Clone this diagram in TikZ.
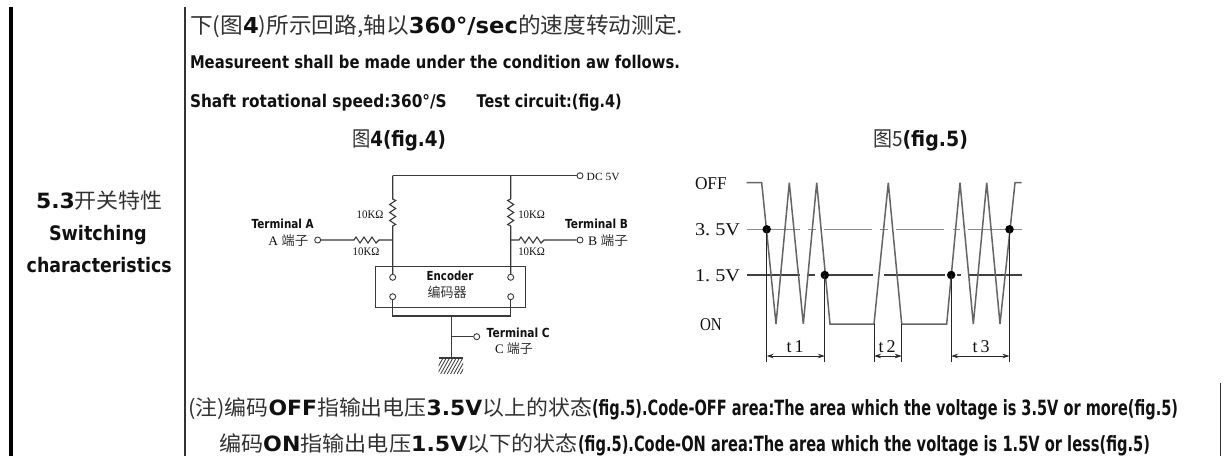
\documentclass[tikz,border=0pt]{standalone}
\usepackage{fontspec}
\setmainfont{DejaVu Sans}
\newfontfamily\cjk{Noto Sans CJK SC}
\newfontfamily\lserif{Liberation Serif}
\usetikzlibrary{arrows.meta}
\definecolor{txt}{HTML}{111111}
\definecolor{zhc}{HTML}{333333}
\definecolor{wire}{HTML}{3A3A3A}
\definecolor{wave}{HTML}{656565}
\definecolor{refl}{HTML}{8C8C8C}
\newcommand\fitw[2]{\resizebox{#1}{\height}{#2}}
\newcommand\zh[1]{{\cjk\mdseries\color{zhc}#1}}
\newcommand\fs[1]{\fontsize{#1}{#1}\selectfont}
\begin{document}
\begin{tikzpicture}[x=1pt,y=-1pt,
  txtnode/.style={anchor=base west,inner sep=0pt,outer sep=0pt,text=txt},
  wirel/.style={draw=wire,line width=1.1pt},
  term/.style={circle,draw=wire,line width=0.9pt,fill=white,inner sep=0pt,minimum size=6pt},
  wavel/.style={draw=wave,line width=1.5pt,line join=miter},
  lvl35/.style={draw=refl,line width=1.6pt},
  lvl15/.style={draw=black!75,line width=1.1pt},
  meas/.style={draw=black!85,line width=0.9pt},
  dotn/.style={circle,fill=black,inner sep=0pt,minimum size=8.5pt},
  dimarrow/.style={meas,{Stealth[length=7pt,width=4.5pt]}-{Stealth[length=7pt,width=4.5pt]}}
]
\useasboundingbox (0,0) rectangle (1226,456);
\fill[white] (0,0) rectangle (1226,456);

% table borders
\fill[black] (8.5,6.7) rectangle (13.3,456);
\draw[black!80,line width=1.2pt] (185,6.7) -- (185,456);
\draw[black!80,line width=1pt] (1220,383) -- (1220,456);

% header text
\node[txtnode] (h1) at (190,33) {\fitw{493pt}{\fs{22}\zh{下(图}\textbf{4}\zh{)所示回路,轴以}\textbf{360°/sec}\zh{的速度转动测定.}}};
\node[txtnode] (h2) at (190,68.5) {\fitw{490pt}{\fs{17.5}\bfseries Measureent shall be made under the condition aw follows.}};
\node[txtnode] (h3) at (190,107.5) {\fitw{256.7pt}{\fs{17.5}\bfseries Shaft rotational speed:360°/S}};
\node[txtnode] (h4) at (476.7,107.5) {\fitw{145pt}{\fs{17.5}\bfseries Test circuit:(fig.4)}};

% left column
\node[txtnode] (c1) at (36,208) {\fitw{126.7pt}{\fs{21}\textbf{5.3}\zh{开关特性}}};
\node[txtnode] (c2) at (49,240.5) {\fitw{97.7pt}{\fs{20}\bfseries Switching}};
\node[txtnode] (c3) at (26.7,272.5) {\fitw{145pt}{\fs{20}\bfseries characteristics}};

% captions
\node[txtnode] (f4) at (352,146) {\fitw{94pt}{\fs{21}\zh{图}\textbf{4(fig.4)}}};
\node[txtnode] (f5) at (873,146) {\fitw{95pt}{\fs{21}\zh{图}{\zh{5}}\textbf{(fig.5)}}};

% ---------------- circuit ----------------
\coordinate (topL) at (392.7,175.7);
\coordinate (topR) at (510.7,175.7);
\node[term] (dc) at (580,175.7) {};
\node[txtnode] (dct) at (586.7,180) {\fitw{33pt}{\fs{11}\lserif DC\ 5V}};
\draw[wirel] (topL) -- (topR) -- (dc);

% vertical resistors
\coordinate (rvL1) at (392.7,199);
\coordinate (rvL2) at (392.7,226);
\coordinate (rvR1) at (510.7,199);
\coordinate (rvR2) at (510.7,226);
\coordinate (jL) at (392.7,240);
\coordinate (jR) at (510.7,240);
\node[draw=wire,line width=1.1pt,minimum width=150pt,minimum height=40.7pt,inner sep=0pt,anchor=north west] (enc) at (375,266) {};
\node[term] (e1) at (392.7,277.3) {};
\node[term] (e2) at (510.7,277.3) {};
\node[term] (e3) at (392.7,296.7) {};
\node[term] (e4) at (510.7,296.7) {};

\draw[wirel] (topL) -- (rvL1) -- ++(3,1.5) -- ++(-6,4) -- ++(6,4) -- ++(-6,4) -- ++(6,4) -- ++(-6,4) -- ++(6,4) -- (rvL2) -- (jL) -- (e1);
\draw[wirel] (topR) -- (rvR1) -- ++(-3,1.5) -- ++(6,4) -- ++(-6,4) -- ++(6,4) -- ++(-6,4) -- ++(6,4) -- ++(-6,4) -- (rvR2) -- (jR) -- (e2);

% horizontal resistors
\node[term] (tA) at (317.7,240) {};
\node[term] (tB) at (580,240) {};
\coordinate (rhL1) at (354,240);
\coordinate (rhL2) at (379,240);
\coordinate (rhR1) at (519,240);
\coordinate (rhR2) at (544,240);
\draw[wirel] (tA) -- (rhL1) -- ++(2,-3) -- ++(4,6) -- ++(4,-6) -- ++(4,6) -- ++(4,-6) -- ++(4,6) -- (rhL2) -- (jL);
\draw[wirel] (jR) -- (rhR1) -- ++(2,-3) -- ++(4,6) -- ++(4,-6) -- ++(4,6) -- ++(4,-6) -- ++(4,6) -- (rhR2) -- (tB);

% bottom / ground
\coordinate (gJ) at (451.7,316);
\coordinate (cJ) at (451.7,336.7);
\coordinate (gnd) at (451.7,358);
\node[term] (tC) at (476.7,336.7) {};
\draw[wirel] (e3) |- (gJ) -| (e4);
\draw[wirel] (gJ) -- (cJ) -- (gnd);
\draw[wirel] (cJ) -- (tC);
\draw[wirel] (438.5,358) -- (463,358);
\begin{scope}
\clip (438.5,358.5) rectangle (463,373);
\foreach \i in {0,...,9} {
  \draw[draw=wire,line width=0.8pt] (434+\i*3.3,374) -- (443+\i*3.3,358);
}
\end{scope}

% circuit labels
\node[txtnode] (lta) at (251.7,228.5) {\fitw{62pt}{\fs{12.5}\bfseries Terminal A}};
\node[txtnode] (lta2) at (268.3,245.5) {\fitw{40pt}{\fs{13}\lserif\color{txt}A\ \zh{端子}}};
\node[txtnode] (ltb) at (565,228.5) {\fitw{63pt}{\fs{12.5}\bfseries Terminal B}};
\node[txtnode] (ltb2) at (588,245.5) {\fitw{40pt}{\fs{13}\lserif\color{txt}B\ \zh{端子}}};
\node[txtnode] (ltc) at (486.7,337) {\fitw{63pt}{\fs{12.5}\bfseries Terminal C}};
\node[txtnode] (ltc2) at (495,353.5) {\fitw{38pt}{\fs{13}\lserif\color{txt}C\ \zh{端子}}};
\node[txtnode] (enct) at (426.7,280.5) {\fitw{46.6pt}{\fs{12.5}\bfseries Encoder}};
\node[txtnode] (enct2) at (427.7,297.5) {\fitw{39pt}{\fs{13.5}\zh{编码器}}};
\node[txtnode] (r1) at (356.7,218.3) {\fitw{26.7pt}{\fs{11.5}\lserif 10KΩ}};
\node[txtnode] (r2) at (518.3,218.3) {\fitw{26.7pt}{\fs{11.5}\lserif 10KΩ}};
\node[txtnode] (r3) at (352.7,255.7) {\fitw{26.7pt}{\fs{11.5}\lserif 10KΩ}};
\node[txtnode] (r4) at (518.3,255.7) {\fitw{26.7pt}{\fs{11.5}\lserif 10KΩ}};

% ---------------- waveform ----------------
\node[txtnode] (woff) at (695,189.5) {\fitw{31.7pt}{\fs{18}\lserif OFF}};
\node[txtnode] (w35) at (695,235.8) {\fitw{45pt}{\fs{18}\lserif 3.\ 5V}};
\node[txtnode] (w15) at (695,281.5) {\fitw{45pt}{\fs{18}\lserif 1.\ 5V}};
\node[txtnode] (won) at (700,330.5) {\fitw{21.7pt}{\fs{18}\lserif ON}};

\foreach \a/\b in {746.7/800,808/816,824/871.7,880/888,896/944.3,952.7/960,968.3/1021.7}
  \draw[lvl35] (\a,229.3) -- (\b,229.3);
\foreach \a/\b in {746.7/800,806.7/815,828/873,884/945,957/961,968.3/1021.7}
  \draw[lvl15] (\a,275) -- (\b,275);

\draw[wavel] (746.7,182.7) -- (761.7,182.7) -- (776,324) -- (789.3,182.7) -- (803.3,324) -- (816.7,182.7) -- (830,324) -- (874,324) -- (888.3,182.7) -- (901.7,324) -- (946.7,324) -- (960,182.7) -- (973.3,324) -- (986.7,182.7) -- (1000,324) -- (1015,182.7) -- (1021.7,182.7);

\node[dotn] (d1) at (766.7,229.3) {};
\node[dotn] (d2) at (824.8,275) {};
\node[dotn] (d3) at (951.2,275) {};
\node[dotn] (d4) at (1009.5,229.3) {};
\coordinate (t2a) at (874,324);
\coordinate (t2b) at (901.7,324);
\coordinate (b1) at (766.7,362);
\coordinate (b2) at (824.8,362);
\coordinate (b3) at (874,362);
\coordinate (b4) at (901.7,362);
\coordinate (b5) at (951.2,362);
\coordinate (b6) at (1009.5,362);
\draw[meas] (d1.center) -- (b1);
\draw[meas] (d2.center) -- (b2);
\draw[meas] (t2a) -- (b3);
\draw[meas] (t2b) -- (b4);
\draw[meas] (d3.center) -- (b5);
\draw[meas] (d4.center) -- (b6);
\coordinate (a1) at (766.7,356);
\coordinate (a2) at (824.8,356);
\coordinate (a3) at (874,356);
\coordinate (a4) at (901.7,356);
\coordinate (a5) at (951.2,356);
\coordinate (a6) at (1009.5,356);
\draw[dimarrow] (a1) -- (a2);
\draw[dimarrow] (a3) -- (a4);
\draw[dimarrow] (a5) -- (a6);
\node[anchor=base,inner sep=0pt,text=txt] (lt1) at (795,352) {\fs{18}\lserif t\,1};
\node[anchor=base,inner sep=0pt,text=txt] (lt2) at (887,352) {\fs{18}\lserif t\,2};
\node[anchor=base,inner sep=0pt,text=txt] (lt3) at (981,352) {\fs{18}\lserif t\,3};

% ---------------- bottom notes ----------------
\node[txtnode] (n1a) at (188,415) {\fitw{404pt}{\fs{21}\zh{(注)编码}\textbf{OFF}\zh{指输出电压}\textbf{3.5V}\zh{以上的状态}}};
\node[txtnode] (n1b) at (592,415) {\fitw{586pt}{\fs{21}\bfseries (fig.5).Code-OFF area:The area which the voltage is 3.5V or more(fig.5)}};
\node[txtnode] (n2a) at (219,451) {\fitw{359pt}{\fs{21}\zh{编码}\textbf{ON}\zh{指输出电压}\textbf{1.5V}\zh{以下的状态}}};
\node[txtnode] (n2b) at (578,451) {\fitw{572pt}{\fs{21}\bfseries (fig.5).Code-ON area:The area which the voltage is 1.5V or less(fig.5)}};
\end{tikzpicture}
\end{document}
